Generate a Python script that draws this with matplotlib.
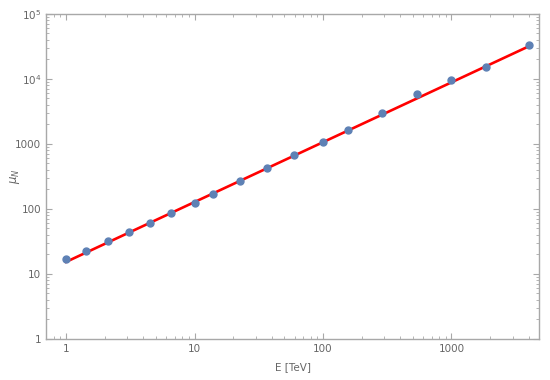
import matplotlib
matplotlib.use("Agg")
import matplotlib.pyplot as plt
import numpy as np
from matplotlib.ticker import LogLocator, FixedLocator, FixedFormatter, NullFormatter

# --- datos ---
energia_tev = [1.0, 1.44, 2.11, 3.09, 4.53, 6.6, 10.0, 14.0, 22.7, 36.9,
               59.8, 100.0, 157.0, 289.0, 536.0, 1000.0, 1846.0, 3990.0]
mu_n = [16.8, 22.7, 31.6, 43.5, 61.4, 85.3, 124.5, 171.0, 272.0, 424.0,
        682.0, 1066.0, 1630.0, 2946.0, 5776.0, 9590.0, 15200.0, 32750.0]

# ajuste potencia mu = A * E^gamma
fit_A = 15.3
fit_gamma = 0.92
fit_E = [1.0, 3990.0]

x_ticks = [1, 10, 100, 1000]
x_tick_labels = ["1", "10", "100", "1000"]
y_ticks = [1, 10, 100, 1000, 1e4, 1e5]
y_tick_labels = ["1", "10", "100", "1000", r"$10^4$", r"$10^5$"]

gris_marco = "#a8a8a8"
gris_texto = "#666666"

fig = plt.figure(figsize=(5.5, 3.8), dpi=100)
ax = fig.add_axes([0.084, 0.108, 0.896, 0.856])

fit_E = np.array(fit_E)
ax.plot(fit_E, fit_A * fit_E ** fit_gamma, color="red", lw=1.9, zorder=2)
ax.plot(energia_tev, mu_n, "o", color="#5e81b5", ms=5.0, zorder=3)

ax.set_xscale("log")
ax.set_yscale("log")
ax.set_xlim(0.7, 4800)
ax.set_ylim(1, 1e5)

ax.xaxis.set_major_locator(FixedLocator(x_ticks))
ax.xaxis.set_major_formatter(FixedFormatter(x_tick_labels))
ax.yaxis.set_major_locator(FixedLocator(y_ticks))
ax.yaxis.set_major_formatter(FixedFormatter(y_tick_labels))
ax.xaxis.set_minor_locator(LogLocator(base=10, subs=np.arange(2, 10), numticks=20))
ax.yaxis.set_minor_locator(LogLocator(base=10, subs=np.arange(2, 10), numticks=20))
ax.xaxis.set_minor_formatter(NullFormatter())
ax.yaxis.set_minor_formatter(NullFormatter())

for s in ax.spines.values():
    s.set_color(gris_marco)
    s.set_linewidth(1.0)

ax.tick_params(which="both", direction="in", top=True, right=True,
               color=gris_marco, labelcolor=gris_texto, labelsize=7.5)
ax.tick_params(which="major", length=4.5, width=0.8)
ax.tick_params(which="minor", length=2.5, width=0.6)

ax.set_xlabel("E [TeV]", color=gris_texto, fontsize=7.5, labelpad=6)
ax.set_ylabel(r"$\mu_N$", color=gris_texto, fontsize=8.5)
ax.yaxis.set_label_coords(-0.05, 0.5)

fig.savefig("out.png", dpi=100)
